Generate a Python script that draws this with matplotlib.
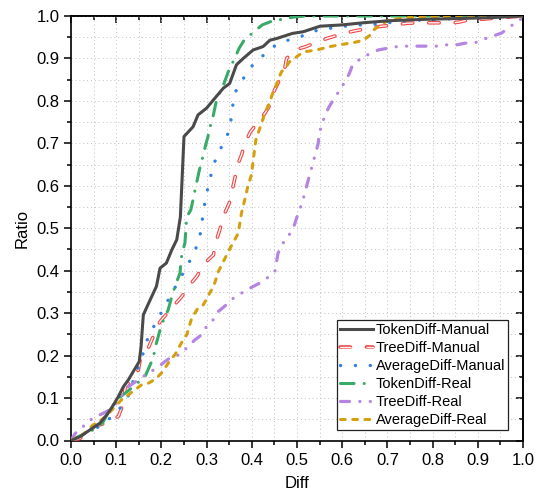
import matplotlib
matplotlib.use("Agg")
import matplotlib.pyplot as plt
import matplotlib.patheffects as pe
from matplotlib.ticker import MultipleLocator

plt.rcParams['font.family'] = ['Liberation Sans', 'DejaVu Sans']
plt.rcParams['lines.scale_dashes'] = False

# ---------------- data ----------------
tm_x = [0.0,0.02,0.042,0.064,0.079,0.094,0.105,0.116,0.127,0.138,0.151,0.155,0.16,0.175,0.189,0.197,0.211,0.223,0.234,0.242,0.25,0.27,0.281,0.3,0.318,0.337,0.351,0.366,0.381,0.403,0.425,0.44,0.455,0.49,0.514,0.551,0.599,0.646,0.706,0.779,0.853,0.927,1.0]
tm_y = [0,0.009,0.025,0.041,0.06,0.084,0.104,0.127,0.143,0.163,0.186,0.221,0.296,0.331,0.363,0.406,0.418,0.449,0.473,0.527,0.716,0.739,0.767,0.783,0.806,0.83,0.841,0.885,0.9,0.92,0.928,0.943,0.947,0.959,0.963,0.976,0.979,0.984,0.989,0.992,0.994,0.996,1.0]

trm_x = [0.0,0.02,0.05,0.08,0.105,0.116,0.12,0.13,0.149,0.153,0.171,0.182,0.193,0.197,0.226,0.245,0.263,0.278,0.296,0.315,0.322,0.329,0.34,0.35,0.37,0.377,0.386,0.397,0.429,0.438,0.45,0.463,0.472,0.477,0.495,0.52,0.547,0.569,0.603,0.628,0.68,0.717,0.743,0.776,0.801,0.846,0.86,0.883,0.905,0.95,1.0]
trm_y = [0,0.005,0.033,0.042,0.057,0.088,0.127,0.139,0.166,0.19,0.218,0.245,0.272,0.28,0.316,0.339,0.367,0.386,0.418,0.437,0.473,0.496,0.535,0.559,0.653,0.672,0.704,0.727,0.771,0.786,0.825,0.853,0.872,0.9,0.92,0.928,0.94,0.948,0.959,0.965,0.975,0.979,0.983,0.984,0.984,0.984,0.986,0.992,0.992,0.996,1.0]

am_x = [0.0,0.038,0.071,0.116,0.13,0.139,0.153,0.171,0.189,0.219,0.254,0.27,0.284,0.289,0.294,0.3,0.315,0.329,0.344,0.353,0.357,0.362,0.379,0.399,0.422,0.448,0.477,0.507,0.54,0.573,0.606,0.643,0.676,0.743,0.809,0.9,1.0]
am_y = [0,0.021,0.037,0.084,0.112,0.147,0.182,0.245,0.28,0.339,0.406,0.437,0.473,0.508,0.547,0.582,0.649,0.684,0.712,0.747,0.783,0.818,0.849,0.881,0.904,0.928,0.942,0.951,0.965,0.971,0.976,0.979,0.981,0.989,0.992,0.996,1.0]

tr_x = [0.0,0.016,0.049,0.07,0.079,0.101,0.13,0.164,0.175,0.182,0.186,0.193,0.2,0.215,0.223,0.23,0.241,0.245,0.252,0.256,0.265,0.269,0.276,0.284,0.29,0.297,0.303,0.307,0.315,0.322,0.337,0.344,0.348,0.362,0.372,0.383,0.405,0.423,0.447,0.477,0.495,0.52,0.6,1.0]
tr_y = [0,0.009,0.025,0.042,0.06,0.096,0.12,0.151,0.178,0.194,0.218,0.245,0.272,0.308,0.339,0.363,0.394,0.437,0.465,0.527,0.543,0.562,0.598,0.637,0.661,0.692,0.716,0.736,0.767,0.802,0.837,0.857,0.869,0.9,0.924,0.943,0.963,0.979,0.989,0.994,0.998,1.0,1.0,1.0]

trr_x = [0.0,0.009,0.02,0.027,0.038,0.046,0.057,0.079,0.094,0.127,0.149,0.171,0.189,0.208,0.223,0.241,0.256,0.274,0.289,0.3,0.318,0.326,0.344,0.359,0.377,0.396,0.418,0.433,0.451,0.458,0.469,0.48,0.492,0.499,0.507,0.514,0.521,0.525,0.53,0.536,0.542,0.547,0.549,0.555,0.562,0.571,0.58,0.595,0.606,0.616,0.623,0.639,0.662,0.68,0.7,0.722,0.743,0.768,0.787,0.809,0.831,0.853,0.872,0.894,0.912,0.934,0.953,0.971,0.993,1.0]
trr_y = [0,0.016,0.029,0.033,0.047,0.05,0.057,0.068,0.08,0.127,0.143,0.159,0.17,0.186,0.198,0.202,0.218,0.237,0.249,0.269,0.288,0.304,0.32,0.335,0.347,0.359,0.371,0.382,0.398,0.441,0.465,0.48,0.5,0.524,0.547,0.57,0.598,0.614,0.633,0.657,0.68,0.7,0.724,0.743,0.767,0.786,0.802,0.826,0.845,0.865,0.885,0.898,0.912,0.92,0.924,0.928,0.929,0.929,0.929,0.929,0.932,0.932,0.936,0.937,0.945,0.953,0.96,0.975,0.99,1.0]

ar_x = [0.0,0.005,0.024,0.035,0.049,0.06,0.08,0.101,0.112,0.13,0.151,0.156,0.171,0.178,0.193,0.2,0.223,0.23,0.248,0.256,0.267,0.274,0.281,0.293,0.311,0.318,0.326,0.333,0.352,0.37,0.377,0.386,0.391,0.399,0.406,0.409,0.429,0.44,0.446,0.453,0.459,0.466,0.476,0.483,0.49,0.504,0.518,0.544,0.573,0.599,0.624,0.647,0.662,0.669,0.68,0.691,0.702,0.728,0.739,0.779,0.9,1.0]
ar_y = [0,0.003,0.013,0.021,0.037,0.042,0.06,0.084,0.096,0.11,0.127,0.131,0.135,0.139,0.151,0.159,0.194,0.202,0.237,0.249,0.288,0.3,0.312,0.32,0.355,0.371,0.398,0.413,0.453,0.488,0.535,0.574,0.598,0.625,0.684,0.708,0.771,0.798,0.818,0.833,0.853,0.869,0.88,0.892,0.896,0.908,0.916,0.92,0.928,0.933,0.937,0.943,0.955,0.967,0.975,0.983,0.99,0.994,0.996,0.998,1.0,1.0]

labels = ["TokenDiff-Manual", "TreeDiff-Manual", "AverageDiff-Manual",
          "TokenDiff-Real", "TreeDiff-Real", "AverageDiff-Real"]
x_ticks = [0.0, 0.1, 0.2, 0.3, 0.4, 0.5, 0.6, 0.7, 0.8, 0.9, 1.0]
y_ticks = [0.0, 0.1, 0.2, 0.3, 0.4, 0.5, 0.6, 0.7, 0.8, 0.9, 1.0]

# ---------------- figure ----------------
fig = plt.figure(figsize=(5.38, 4.91), dpi=100)
ax = fig.add_axes([71/538, 1-440.5/491, 452/538, 424.5/491])

ax.plot(tm_x, tm_y, color='#4a4a4a', lw=2.2, label=labels[0], zorder=6)

ax.plot(trm_x, trm_y, color='#fff4f4', lw=1.0, linestyle=(0, (7.5, 11.5)),
        dash_capstyle='round', label=labels[1], zorder=5,
        path_effects=[pe.Stroke(linewidth=2.6, foreground='#f04848'), pe.Normal()])

ax.plot(am_x, am_y, color='#2f80e0', lw=2.4, linestyle=(0, (0.1, 10.6)),
        dash_capstyle='round', label=labels[2], zorder=5)

ax.plot(tr_x, tr_y, color='#3aaa68', lw=2.2, linestyle=(0, (9.8, 7.2, 0.1, 7.2)),
        dash_capstyle='round', label=labels[3], zorder=5)

ax.plot(trr_x, trr_y, color='#b585e2', lw=2.3, linestyle=(0, (6.5, 7.4, 0.1, 7.4, 0.1, 7.4)),
        dash_capstyle='round', label=labels[4], zorder=5)

ax.plot(ar_x, ar_y, color='#d4a010', lw=2.2, linestyle=(0, (3.4, 5.4)),
        dash_capstyle='round', label=labels[5], zorder=5)

ax.set_xlim(0, 1)
ax.set_ylim(0, 1)
ax.set_xticks(x_ticks)
ax.set_yticks(y_ticks)
ax.set_xticklabels([f"{v:.1f}" for v in x_ticks])
ax.set_yticklabels([f"{v:.1f}" for v in y_ticks])
ax.xaxis.set_minor_locator(MultipleLocator(0.05))
ax.yaxis.set_minor_locator(MultipleLocator(0.05))
ax.tick_params(which='major', direction='out', length=5, width=1.1, labelsize=12)
ax.tick_params(axis='x', which='major', pad=3.8)
ax.tick_params(axis='y', which='major', pad=3.4)
ax.tick_params(which='minor', direction='out', length=3, width=1.1)
ax.grid(which='both', linestyle=(0, (0.8, 2.0)), color='#c6c6c6', lw=0.7)
ax.set_axisbelow(True)
for s in ax.spines.values():
    s.set_linewidth(1.2)

# mirrored top/right ticks pointing inward
sx = ax.secondary_xaxis('top')
sx.set_xticks(x_ticks)
sx.xaxis.set_minor_locator(MultipleLocator(0.05))
sx.tick_params(which='major', direction='in', length=5, width=1.1, labeltop=False)
sx.tick_params(which='minor', direction='in', length=3, width=1.1)
sx.spines['top'].set_linewidth(1.2)
sy = ax.secondary_yaxis('right')
sy.set_yticks(y_ticks)
sy.yaxis.set_minor_locator(MultipleLocator(0.05))
sy.tick_params(which='major', direction='in', length=5, width=1.1, labelright=False)
sy.tick_params(which='minor', direction='in', length=3, width=1.1)
sy.spines['right'].set_linewidth(1.2)

ax.set_xlabel("Diff", fontsize=12, labelpad=6)
ax.set_ylabel("Ratio", fontsize=12, labelpad=5)

leg = ax.legend(loc='lower right', bbox_to_anchor=(0.967, 0.025), borderaxespad=0,
                fontsize=10.5, handlelength=2.3, handletextpad=0.15, labelspacing=0.27,
                borderpad=0.2, fancybox=False, framealpha=1, edgecolor='#222222')
leg.get_frame().set_linewidth(0.9)

fig.savefig("out.png", dpi=100)
